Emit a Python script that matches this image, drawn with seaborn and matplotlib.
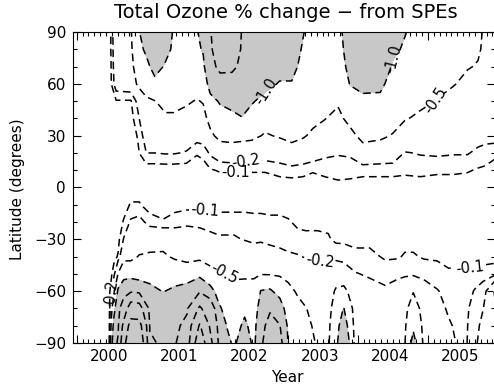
import numpy as np
import matplotlib
matplotlib.use("Agg")
import matplotlib.pyplot as plt
from matplotlib.ticker import MultipleLocator
from matplotlib.transforms import blended_transform_factory
import seaborn as sns

# Total ozone % change from SPEs
# rows = latitude (deg), one list per time column (decimal year)
lat_north = [0, 10, 20, 30, 40, 50, 60, 70, 80, 90]
lat_south = [-90, -80, -70, -60, -50, -40, -30, -20, -10, 0]

time_north = [1999.94, 2000.47, 2000.56, 2000.77, 2000.87, 2000.99, 2001.11, 2001.26,
              2001.38, 2001.56, 2001.71, 2001.80, 2001.90, 2002.04, 2002.21, 2002.35,
              2002.49, 2002.68, 2002.89, 2003.06, 2003.22, 2003.36, 2003.53, 2003.72,
              2003.89, 2004.07, 2004.32, 2004.50, 2004.67, 2004.89, 2005.13, 2005.36,
              2005.56, 2005.71, 2005.81, 2005.96]

ozone_north = [
    [-0.01, -0.01, -0.01, -0.01, -0.01, -0.01, -0.01, -0.01, -0.01, -0.01],
    [-0.02, -0.02, -0.02, -0.02, -0.03, -0.03, -0.04, -0.04, -0.05, -0.05],
    [-0.02, -0.02, -0.03, -0.03, -0.05, -0.09, -0.28, -0.32, -0.34, -0.35],
    [-0.02, -0.03, -0.03, -0.04, -0.06, -0.09, -0.30, -0.38, -0.43, -0.46],
    [-0.03, -0.05, -0.08, -0.11, -0.17, -0.24, -0.55, -0.70, -0.82, -0.92],
    [-0.02, -0.04, -0.20, -0.27, -0.36, -0.46, -0.62, -0.85, -1.10, -1.30],
    [-0.02, -0.04, -0.20, -0.27, -0.37, -0.49, -0.85, -1.20, -1.40, -1.50],
    [-0.02, -0.04, -0.21, -0.30, -0.45, -0.60, -0.75, -0.95, -1.15, -1.30],
    [-0.02, -0.04, -0.21, -0.30, -0.44, -0.62, -0.75, -0.85, -0.92, -0.95],
    [-0.02, -0.04, -0.19, -0.28, -0.40, -0.54, -0.70, -0.80, -0.88, -0.92],
    [-0.02, -0.04, -0.11, -0.26, -0.36, -0.48, -0.65, -0.80, -0.90, -0.97],
    [-0.02, -0.05, -0.13, -0.27, -0.40, -0.52, -0.70, -0.88, -1.05, -1.15],
    [-0.03, -0.09, -0.22, -0.43, -0.60, -0.85, -1.20, -1.60, -1.80, -1.90],
    [-0.03, -0.11, -0.30, -0.60, -0.80, -1.05, -1.50, -2.30, -2.80, -3.00],
    [-0.03, -0.11, -0.32, -0.62, -0.88, -1.15, -1.60, -2.20, -2.70, -3.00],
    [-0.03, -0.11, -0.30, -0.60, -0.97, -1.30, -1.60, -1.80, -1.90, -1.95],
    [-0.03, -0.11, -0.28, -0.58, -0.80, -1.05, -1.30, -1.50, -1.60, -1.65],
    [-0.03, -0.11, -0.27, -0.47, -0.62, -0.85, -1.15, -1.35, -1.45, -1.50],
    [-0.05, -0.13, -0.30, -0.53, -0.65, -0.80, -0.96, -1.20, -1.35, -1.40],
    [-0.05, -0.14, -0.38, -0.58, -0.70, -0.82, -0.97, -1.15, -1.25, -1.30],
    [-0.05, -0.13, -0.33, -0.53, -0.62, -0.70, -0.78, -0.86, -0.95, -1.03],
    [-0.04, -0.11, -0.29, -0.45, -0.57, -0.65, -0.72, -0.76, -0.78, -0.80],
    [-0.05, -0.13, -0.23, -0.38, -0.51, -0.60, -0.68, -0.74, -0.78, -0.80],
    [-0.07, -0.14, -0.21, -0.30, -0.42, -0.54, -0.65, -0.74, -0.80, -0.85],
    [-0.06, -0.14, -0.22, -0.40, -0.60, -0.80, -1.02, -1.15, -1.25, -1.30],
    [-0.05, -0.13, -0.35, -0.60, -0.75, -0.92, -1.10, -1.30, -1.40, -1.45],
    [-0.05, -0.13, -0.32, -0.56, -0.72, -0.92, -1.08, -1.25, -1.35, -1.40],
    [-0.05, -0.13, -0.30, -0.48, -0.62, -0.75, -0.86, -0.96, -1.08, -1.15],
    [-0.05, -0.12, -0.19, -0.35, -0.52, -0.68, -0.80, -0.88, -0.95, -1.02],
    [-0.05, -0.13, -0.21, -0.33, -0.45, -0.56, -0.66, -0.74, -0.80, -0.84],
    [-0.04, -0.12, -0.22, -0.32, -0.42, -0.49, -0.56, -0.62, -0.66, -0.68],
    [-0.04, -0.12, -0.21, -0.30, -0.38, -0.44, -0.51, -0.55, -0.58, -0.60],
    [-0.04, -0.11, -0.21, -0.28, -0.35, -0.41, -0.46, -0.51, -0.54, -0.56],
    [-0.03, -0.09, -0.17, -0.26, -0.33, -0.39, -0.44, -0.49, -0.52, -0.53],
    [-0.03, -0.08, -0.16, -0.24, -0.30, -0.36, -0.41, -0.45, -0.47, -0.48],
    [-0.02, -0.06, -0.12, -0.26, -0.28, -0.32, -0.35, -0.38, -0.39, -0.40],
]

time_south = [1999.94, 2000.46, 2000.53, 2000.59, 2000.67, 2000.77, 2000.89, 2001.04,
              2001.23, 2001.40, 2001.57, 2001.75, 2001.90, 2002.02, 2002.14, 2002.24,
              2002.39, 2002.52, 2002.62, 2002.75, 2002.89, 2003.01, 2003.15, 2003.26,
              2003.43, 2003.58, 2003.69, 2003.80, 2003.96, 2004.17, 2004.39, 2004.57,
              2004.67, 2004.79, 2004.94, 2005.13, 2005.29, 2005.43, 2005.54, 2005.66,
              2005.78, 2005.96]

ozone_south = [
    [-0.01, -0.01, -0.01, -0.01, -0.01, -0.01, -0.01, -0.01, -0.01, -0.01],
    [-0.03, -0.03, -0.03, -0.03, -0.03, -0.03, -0.03, -0.02, -0.02, -0.02],
    [-1.50, -1.20, -0.80, -0.45, -0.15, -0.07, -0.05, -0.04, -0.03, -0.02],
    [-2.20, -1.80, -1.60, -1.10, -0.52, -0.11, -0.07, -0.05, -0.04, -0.02],
    [-8.00, -6.00, -3.00, -1.40, -0.80, -0.40, -0.21, -0.11, -0.06, -0.03],
    [-16.0, -12.0, -7.00, -1.70, -0.75, -0.42, -0.30, -0.22, -0.11, -0.05],
    [-15.0, -12.0, -6.50, -1.50, -0.72, -0.52, -0.33, -0.25, -0.11, -0.05],
    [-2.20, -1.90, -1.50, -1.15, -0.80, -0.55, -0.35, -0.15, -0.05, -0.03],
    [-1.80, -1.60, -1.30, -0.98, -0.70, -0.55, -0.38, -0.11, -0.05, -0.02],
    [-1.90, -1.70, -1.40, -1.10, -0.75, -0.45, -0.30, -0.15, -0.06, -0.03],
    [-3.00, -2.40, -1.80, -1.25, -0.70, -0.40, -0.30, -0.17, -0.07, -0.03],
    [-14.0, -10.5, -5.50, -1.80, -0.80, -0.42, -0.28, -0.16, -0.07, -0.03],
    [-6.00, -4.50, -3.00, -1.20, -0.60, -0.38, -0.24, -0.15, -0.07, -0.03],
    [-1.80, -1.50, -1.10, -0.80, -0.55, -0.38, -0.22, -0.14, -0.07, -0.03],
    [-1.15, -0.97, -0.80, -0.65, -0.48, -0.36, -0.22, -0.14, -0.07, -0.03],
    [-0.90, -0.80, -0.70, -0.60, -0.45, -0.35, -0.22, -0.14, -0.07, -0.03],
    [-1.40, -1.10, -0.90, -0.62, -0.45, -0.36, -0.19, -0.14, -0.07, -0.03],
    [-0.85, -0.80, -0.70, -0.60, -0.46, -0.30, -0.17, -0.13, -0.07, -0.03],
    [-1.60, -1.45, -1.25, -1.02, -0.48, -0.30, -0.18, -0.13, -0.07, -0.03],
    [-3.50, -2.60, -1.80, -1.08, -0.47, -0.26, -0.17, -0.12, -0.07, -0.03],
    [-2.40, -2.05, -1.30, -0.80, -0.45, -0.24, -0.16, -0.12, -0.07, -0.03],
    [-0.95, -0.85, -0.72, -0.58, -0.42, -0.22, -0.15, -0.11, -0.06, -0.03],
    [-0.75, -0.68, -0.58, -0.46, -0.32, -0.21, -0.13, -0.08, -0.05, -0.03],
    [-0.65, -0.58, -0.51, -0.40, -0.30, -0.19, -0.12, -0.08, -0.05, -0.03],
    [-0.46, -0.42, -0.38, -0.33, -0.26, -0.18, -0.12, -0.08, -0.05, -0.03],
    [-0.45, -0.42, -0.37, -0.32, -0.24, -0.17, -0.11, -0.08, -0.05, -0.03],
    [-0.85, -0.80, -0.70, -0.55, -0.30, -0.17, -0.08, -0.06, -0.04, -0.02],
    [-1.60, -1.30, -1.02, -0.60, -0.28, -0.16, -0.08, -0.06, -0.04, -0.02],
    [-0.40, -0.38, -0.35, -0.30, -0.21, -0.12, -0.08, -0.06, -0.04, -0.02],
    [-0.40, -0.38, -0.33, -0.26, -0.18, -0.12, -0.08, -0.06, -0.04, -0.02],
    [-0.38, -0.35, -0.30, -0.23, -0.14, -0.09, -0.07, -0.05, -0.03, -0.02],
    [-0.42, -0.38, -0.33, -0.27, -0.17, -0.09, -0.07, -0.05, -0.03, -0.02],
    [-0.48, -0.45, -0.40, -0.30, -0.18, -0.11, -0.07, -0.05, -0.03, -0.02],
    [-1.20, -0.90, -0.70, -0.48, -0.17, -0.11, -0.07, -0.05, -0.03, -0.02],
    [-0.42, -0.40, -0.36, -0.28, -0.16, -0.09, -0.07, -0.05, -0.03, -0.02],
    [-0.33, -0.30, -0.26, -0.21, -0.13, -0.09, -0.07, -0.05, -0.03, -0.02],
    [-0.26, -0.22, -0.18, -0.15, -0.11, -0.08, -0.06, -0.04, -0.03, -0.02],
    [-0.18, -0.17, -0.16, -0.14, -0.11, -0.08, -0.06, -0.04, -0.03, -0.02],
    [-0.17, -0.16, -0.15, -0.13, -0.11, -0.08, -0.06, -0.04, -0.03, -0.02],
    [-0.40, -0.36, -0.30, -0.21, -0.11, -0.08, -0.06, -0.04, -0.03, -0.02],
    [-0.70, -0.60, -0.48, -0.30, -0.12, -0.08, -0.06, -0.04, -0.03, -0.02],
    [-0.80, -0.85, -0.95, -1.10, -0.15, -0.07, -0.06, -0.04, -0.03, -0.02],
]

levels = [-10, -5, -2, -1, -0.5, -0.2, -0.1]
years = [2000, 2001, 2002, 2003, 2004, 2005]
year_labels = ["2000", "2001", "2002", "2003", "2004", "2005"]

sns.set_theme(style="ticks")
plt.rcParams["font.family"] = ["DejaVu Sans"]
plt.rcParams["lines.dashed_pattern"] = [5.0, 3.0]
plt.rcParams["text.color"] = "black"
plt.rcParams["axes.labelcolor"] = "black"
plt.rcParams["xtick.color"] = "black"
plt.rcParams["ytick.color"] = "black"

fig = plt.figure(figsize=(4.94, 3.89), dpi=100)
ax = fig.add_axes([73 / 494, 46 / 389, 422 / 494, 311 / 389])

fmt = lambda v: f"{v:.1f}"

# label hints (year, lat) for each level, like the original
north_labels = [(-1.0, 2002.51, 58), (-1.0, 2004.53, 74), (-0.5, 2005.13, 50),
                (-0.2, 2002.40, 16), (-0.1, 2002.26, 10)]
south_labels = [(-0.1, 2001.83, -14), (-0.2, 2003.47, -42), (-0.1, 2005.60, -46),
                (-0.5, 2002.12, -49), (-0.2, 2000.49, -62)]

for t, lat, z, labs in [(time_north, lat_north, ozone_north, north_labels),
                        (time_south, lat_south, ozone_south, south_labels)]:
    Z = np.array(z).T
    ax.contourf(t, lat, Z, levels=[-100, -1], colors=["#c8c8c8"])
    # one contour set per level so each can get its own labels
    for lev in levels:
        cs = ax.contour(t, lat, Z, levels=[lev], colors="black",
                        linewidths=1.1, linestyles="dashed")
        pts = [(x, y) for l, x, y in labs if l == lev]
        if pts and len(cs.allsegs[0]) > 0:
            ax.clabel(cs, manual=pts, inline=True, inline_spacing=2,
                      fmt=fmt, fontsize=10.5, colors="black")

ax.set_xlim(1999.947, 2005.953)
ax.set_ylim(-90, 90)
ax.set_xticks(years)
ax.set_xticklabels([])
ax.xaxis.set_minor_locator(MultipleLocator(1 / 12))
ax.set_yticks(range(-90, 91, 30))
ax.yaxis.set_minor_locator(MultipleLocator(10))
ax.tick_params(which="both", direction="in", top=True, right=True,
               color="black", labelcolor="black", width=0.8)
ax.tick_params(axis="x", which="major", length=6)
ax.tick_params(axis="x", which="minor", length=3)
ax.tick_params(axis="y", which="major", length=6, labelsize=11, pad=5)
ax.tick_params(axis="y", which="minor", length=3)
for sp in ax.spines.values():
    sp.set_color("black")
    sp.set_linewidth(0.8)

trans = blended_transform_factory(ax.transData, ax.transAxes)
for yr, lab in zip(years, year_labels):
    ax.text(yr + 0.46, -0.02, lab, transform=trans, ha="center", va="top",
            fontsize=11, color="black")

fig.text(287 / 494, 1 - 378 / 389, "Year", ha="center", va="center", fontsize=11)
fig.text(18 / 494, 1 - 189 / 389, "Latitude (degrees)", ha="center", va="center",
         rotation=90, fontsize=11)
fig.text(286 / 494, 1 - 12 / 389, "Total Ozone % change \u2212 from SPEs",
         ha="center", va="center", fontsize=14)

fig.savefig("out.png", dpi=100)
